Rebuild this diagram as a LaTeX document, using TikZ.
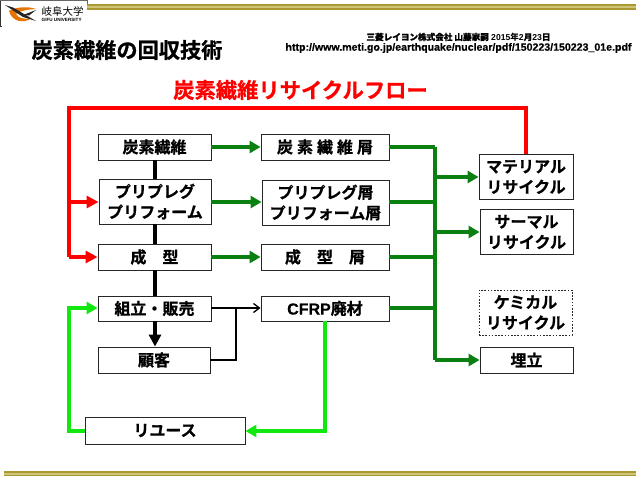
\documentclass[tikz,border=0pt]{standalone}
\usepackage{fontspec}
\setmainfont{Liberation Sans}[BoldFont={Liberation Sans Bold}]
\newfontfamily\jpb[FakeBold=0.7]{Noto Sans CJK JP Bold}
\newfontfamily\jpr{Noto Sans CJK JP}
\newfontfamily\lat[FakeBold=0.4]{Liberation Sans Bold}
\usetikzlibrary{arrows.meta}
\definecolor{dgreen}{RGB}{10,128,16}
\definecolor{bgreen}{RGB}{16,232,16}
\definecolor{gold}{RGB}{170,152,50}
\definecolor{goldl}{RGB}{206,196,120}
\tikzset{
 bx/.style={draw=black!85,line width=0.9pt,fill=white,inner sep=0pt,align=center,font=\fontsize{16}{20.5}\selectfont\jpb,text=black,execute at begin node={\vspace*{2.6pt}}},
 redar/.style={draw=red,line width=3.8pt},
 grn/.style={draw=dgreen,line width=3.4pt},
 lime/.style={draw=bgreen,line width=3.6pt},
 blk/.style={draw=black,line width=3.6pt},
 thin/.style={draw=black,line width=1.3pt},
 headg/.style={-{Triangle[length=11pt,width=12pt]}},
 headr/.style={-{Triangle[length=12pt,width=12pt]}},
 heads/.style={-{Straight Barb[length=6pt,width=9pt]}},
}
\begin{document}
\begin{tikzpicture}[x=1pt,y=-1pt]
\useasboundingbox (0,0) rectangle (640,480);
\fill[white] (0,0) rectangle (640,480);
% gold rules
\fill[gold] (87,4) rectangle (636,10);
\fill[goldl] (87,5.5) rectangle (636,7.8);
\fill[gold] (4,470.5) rectangle (636,476);
\fill[goldl] (4,473) rectangle (636,474.6);
% logo
\draw[black!80,line width=0.6pt] (0.3,0) -- (0.3,26) -- (2,26);
\draw[black!60,line width=0.5pt] (0.3,0) -- (87,0) -- (87,4);
\fill[orange!90!black] (9,11) .. controls (15,7) and (28,6) .. (36,9) .. controls (28,9.5) and (20,10.5) .. (16,14) .. controls (18,18) and (24,19.5) .. (31,18.5) .. controls (24,23.5) and (12,22) .. (9,11) -- cycle;
\fill[black!85] (5,5) -- (13,7.5) -- (36,21) -- (23,17) -- cycle;
\fill[black!85] (23,15) -- (36,10) -- (29,15.5) -- cycle;
\node[anchor=west,inner sep=0pt,font=\fontsize{10.5}{10}\selectfont\jpr] (lg) at (41.5,11.5) {岐阜大学};
\node[anchor=west,inner sep=0pt,font=\fontsize{4.6}{4}\selectfont\bfseries] (lg2) at (41.5,20) {GIFU UNIVERSITY};
% titles
\node[inner sep=0pt,font=\fontsize{21.2}{24}\selectfont\jpb] (title) at (127,50) {炭素繊維の回収技術};
\node[inner sep=0pt,text=red,font=\fontsize{21.3}{24}\selectfont\jpb] (flow) at (300.5,90) {炭素繊維リサイクルフロー};
\node[inner sep=0pt,font=\fontsize{8.6}{9}\selectfont\bfseries] (src) at (458.5,37) {{\jpb 三菱レイヨン株式会社 山藤家嗣} 2015{\jpr 年}2{\jpb 月}23{\jpb 日}};
\node[inner sep=0pt,font=\fontsize{10.6}{10}\selectfont\lat] (url) at (458.5,48) {http://www.meti.go.jp/earthquake/nuclear/pdf/150223/150223\_01e.pdf};
% boxes
\node[bx,minimum width=113pt,minimum height=26pt] (cf) at (154.5,147) {炭素繊維};
\node[bx,minimum width=112pt,minimum height=45pt] (pp) at (155,201.5) {プリプレグ\\プリフォーム};
\node[bx,minimum width=113pt,minimum height=26pt] (mold) at (154.5,257) {成\hspace{1em}型};
\node[bx,minimum width=113pt,minimum height=25pt] (asm) at (154.5,308.5) {組立・販売};
\node[bx,minimum width=112pt,minimum height=26pt] (cust) at (154,360) {顧客};
\node[bx,minimum width=160pt,minimum height=27pt] (reuse) at (165,430.5) {リユース};
\node[bx,minimum width=128pt,minimum height=26pt] (cfw) at (325,147) {炭\hspace{0.25em}素\hspace{0.25em}繊\hspace{0.25em}維\hspace{0.25em}屑};
\node[bx,minimum width=127pt,minimum height=45pt] (ppw) at (325.5,202.5) {プリプレグ屑\\プリフォーム屑};
\node[bx,minimum width=128pt,minimum height=26pt] (mw) at (325,257) {成\hspace{1em}型\hspace{1em}屑};
\node[bx,minimum width=128pt,minimum height=25pt] (cw) at (325,308.5) {{\lat CFRP}廃材};
\node[bx,minimum width=94pt,minimum height=45pt] (mat) at (526,177) {マテリアル\\リサイクル};
\node[bx,minimum width=93pt,minimum height=45pt] (th) at (526.5,232) {サーマル\\リサイクル};
\node[bx,dashed,dash pattern=on 1.6pt off 1.6pt,minimum width=93pt,minimum height=45pt] (ch) at (525.5,312.5) {ケミカル\\リサイクル};
\node[bx,minimum width=93pt,minimum height=26pt] (lf) at (526.5,360) {埋立};
% junctions
\coordinate (redtopr) at (mat.north |- 0,108);
\coordinate (redtopl) at (69,108);
\coordinate (redmid) at (69,202);
\coordinate (redbot) at (69,257);
\coordinate (bus1) at (435,147);
\coordinate (bus2) at (435,202);
\coordinate (bus3) at (435,257);
\coordinate (bus4) at (435,308);
\coordinate (busA) at (435,177);
\coordinate (busB) at (435,232);
\coordinate (busC) at (435,360);
\coordinate (thinj) at (236,308);
\coordinate (lime1) at (325,431);
\coordinate (lime2) at (69,431);
\coordinate (lime3) at (69,308);
\coordinate (spine) at (155,0);
% red
\draw[redar,line join=miter] (mat.north) -- (redtopr) -- (redtopl) -- (redbot);
\draw[redar,headr] (redmid) -- (pp.west |- redmid);
\draw[redar,headr] (redbot) -- (mold.west);
% black
\draw[blk] (cf.south -| spine) -- (pp.north -| spine);
\draw[blk] (pp.south -| spine) -- (mold.north -| spine);
\draw[blk] (mold.south -| spine) -- (asm.north -| spine);
\draw[blk,-{Triangle[length=12pt,width=12pt]}] (asm.south -| spine) -- (cust.north -| spine);
% thin
\draw[thin,heads] (asm.east |- thinj) -- (cw.west |- thinj);
\draw[thin] (cust.east) -- (cust.east -| thinj) -- (thinj);
% green
\draw[grn,headg] (cf) -- (cfw);
\draw[grn,headg] (pp.east |- bus2) -- (ppw.west |- bus2);
\draw[grn,headg] (mold) -- (mw);
\draw[grn] (cfw.east) -- (bus1);
\draw[grn] (ppw.east |- bus2) -- (bus2);
\draw[grn] (mw.east) -- (bus3);
\draw[grn] (cw.east |- bus4) -- (bus4);
\draw[grn,line cap=square] (bus1) -- (busC);
\draw[grn,headg] (busA) -- (mat.west);
\draw[grn,headg] (busB) -- (th.west);
\draw[grn,headg] (busC) -- (lf.west);
% lime
\draw[lime,headg,line join=miter] (cw.south) -- (lime1) -- (reuse.east |- lime1);
\draw[lime,headg,line join=miter] (reuse.west |- lime2) -- (lime2) -- (lime3) -- (asm.west |- lime3);
\end{tikzpicture}
\end{document}
